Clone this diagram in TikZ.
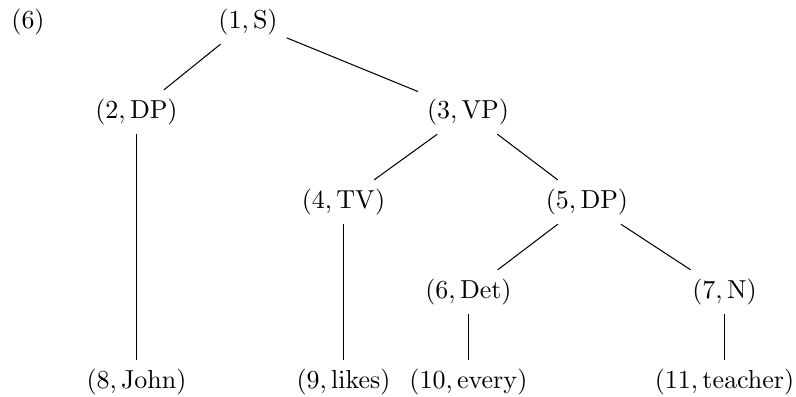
\documentclass[tikz,border=0pt]{standalone}
\begin{document}
\begin{tikzpicture}[x=0.385pt,y=-0.385pt,
  tn/.style={inner sep=3.33pt},
  edge/.style={draw=black,line width=0.4pt}]
\useasboundingbox (0,0) rectangle (796,396);
\node[tn] (ex) at (28,22) {(6)};
\node[tn] (n1) at (248,22) {$(1,\mathrm{S})$};
\node[tn] (n2) at (136.5,112) {$(2,\mathrm{DP})$};
\node[tn] (n3) at (468,112) {$(3,\mathrm{VP})$};
\node[tn] (n4) at (343.5,202) {$(4,\mathrm{TV})$};
\node[tn] (n5) at (587,202) {$(5,\mathrm{DP})$};
\node[tn] (n6) at (468.5,292) {$(6,\mathrm{Det})$};
\node[tn] (n7) at (724.5,292) {$(7,\mathrm{N})$};
\node[tn] (n8) at (136.5,382) {$(8,\mathrm{John})$};
\node[tn] (n9) at (343.5,382) {$(9,\mathrm{likes})$};
\node[tn] (n10) at (468.5,382) {$(10,\mathrm{every})$};
\node[tn] (n11) at (724.5,382) {$(11,\mathrm{teacher})$};
\draw[edge] (n1) -- (n2);
\draw[edge] (n1) -- (n3);
\draw[edge] (n2) -- (n8);
\draw[edge] (n3) -- (n4);
\draw[edge] (n3) -- (n5);
\draw[edge] (n4) -- (n9);
\draw[edge] (n5) -- (n6);
\draw[edge] (n5) -- (n7);
\draw[edge] (n6) -- (n10);
\draw[edge] (n7) -- (n11);
\end{tikzpicture}
\end{document}
